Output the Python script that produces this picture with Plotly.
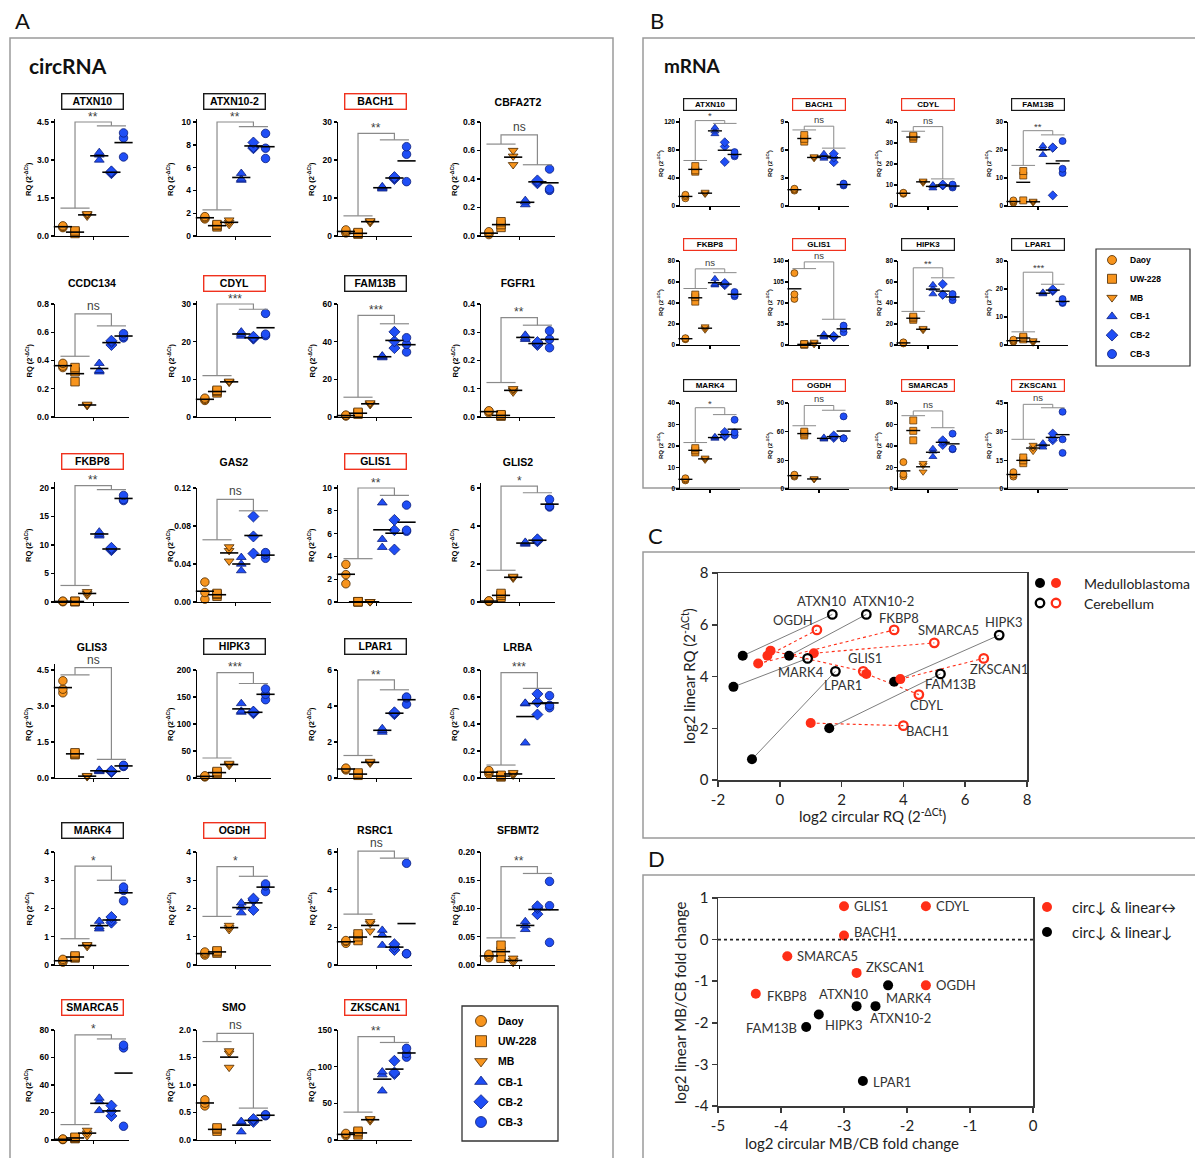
import numpy as np
import plotly.graph_objects as go

W, H = 1195, 1158

# ---------------- categories ----------------
groups = ["Daoy", "UW-228", "MB", "CB-1", "CB-2", "CB-3"]
group_symbols = ["circle", "square", "triangle-down", "triangle-up", "diamond", "circle"]
ORANGE, BLUE = "#F7941D", "#1F4EF5"
group_colors = [ORANGE, ORANGE, ORANGE, BLUE, BLUE, BLUE]
group_edges = ["#4a2800", "#4a2800", "#4a2800", "#0b1d7a", "#0b1d7a", "#0b1d7a"]

# ---------------- Panel A: circRNA RQ values (3 replicates per group) ----------------
circ_genes = ["ATXN10", "ATXN10-2", "BACH1", "CBFA2T2",
              "CCDC134", "CDYL", "FAM13B", "FGFR1",
              "FKBP8", "GAS2", "GLIS1", "GLIS2",
              "GLIS3", "HIPK3", "LPAR1", "LRBA",
              "MARK4", "OGDH", "RSRC1", "SFBMT2",
              "SMARCA5", "SMO", "ZKSCAN1"]
circ_frame = ["black", "black", "red", "", "", "red", "black", "", "red", "", "red", "",
              "", "black", "black", "", "black", "red", "", "", "red", "", "red"]

circ_ATXN10 = [[0.33, 0.37, 0.40], [0.10, 0.16, 0.20], [0.78, 0.84, 0.88], [3.0, 3.2, 3.3], [2.48, 2.52, 2.55], [3.12, 3.87, 4.07]]
circ_ATXN10_2 = [[1.5, 1.6, 1.7], [0.8, 0.92, 1.0], [1.0, 1.2, 1.4], [4.9, 5.0, 5.5], [7.7, 7.8, 8.2], [6.8, 7.7, 9.0]]
circ_BACH1 = [[0.8, 1.2, 1.6], [0.5, 0.7, 0.9], [3.5, 3.8, 4.0], [12.4, 12.7, 13.0], [15.0, 15.3, 15.5], [14.3, 21.5, 23.5]]
circ_CBFA2T2 = [[0.01, 0.02, 0.03], [0.06, 0.08, 0.10], [0.50, 0.56, 0.60], [0.22, 0.24, 0.25], [0.37, 0.38, 0.39], [0.32, 0.33, 0.47]]
circ_CCDC134 = [[0.35, 0.36, 0.38], [0.25, 0.32, 0.35], [0.08, 0.085, 0.09], [0.32, 0.33, 0.38], [0.51, 0.53, 0.54], [0.56, 0.57, 0.59]]
circ_CDYL = [[4.4, 4.7, 5.0], [6.4, 6.8, 7.1], [9.2, 9.3, 9.5], [21.5, 22.0, 22.6], [20.8, 21.0, 21.3], [21.6, 22.0, 27.5]]
circ_FAM13B = [[0.5, 0.8, 1.0], [1.5, 2.0, 2.5], [6.5, 7.0, 7.5], [31.5, 32.0, 32.5], [36.6, 40.2, 45.2], [34.5, 38.6, 42.1]]
circ_FGFR1 = [[0.015, 0.02, 0.022], [0.003, 0.006, 0.008], [0.088, 0.095, 0.1], [0.275, 0.28, 0.29], [0.255, 0.26, 0.265], [0.245, 0.275, 0.305]]
circ_FKBP8 = [[0.05, 0.1, 0.15], [0.05, 0.1, 0.12], [1.2, 1.5, 1.8], [11.6, 11.9, 12.3], [9.1, 9.3, 9.5], [17.8, 18.0, 18.7]]
circ_GAS2 = [[0.003, 0.01, 0.021], [0.006, 0.008, 0.009], [0.043, 0.054, 0.058], [0.033, 0.04, 0.047], [0.051, 0.069, 0.09], [0.046, 0.05, 0.052]]
circ_GLIS1 = [[1.6, 2.4, 3.3], [0.01, 0.02, 0.03], [0.01, 0.02, 0.03], [4.8, 5.5, 8.7], [4.6, 6.3, 7.2], [6.2, 6.3, 8.5]]
circ_GLIS2 = [[0.03, 0.05, 0.06], [0.25, 0.35, 0.45], [1.25, 1.3, 1.35], [3.05, 3.1, 3.15], [3.2, 3.25, 3.3], [5.0, 5.05, 5.4]]
circ_GLIS3 = [[3.55, 3.7, 4.05], [0.97, 1.0, 1.05], [0.05, 0.08, 0.1], [0.27, 0.3, 0.33], [0.25, 0.28, 0.3], [0.48, 0.5, 0.53]]
circ_HIPK3 = [[2, 3, 4], [8, 10, 12], [23, 25, 27], [122, 124, 138], [120, 122, 123], [145, 155, 165]]
circ_LPAR1 = [[0.45, 0.5, 0.55], [0.15, 0.22, 0.28], [0.82, 0.87, 0.92], [2.55, 2.65, 2.75], [3.55, 3.6, 3.65], [4.1, 4.45, 4.5]]
circ_LRBA = [[0.03, 0.045, 0.055], [0.008, 0.015, 0.02], [0.02, 0.03, 0.04], [0.26, 0.55, 0.555], [0.47, 0.562, 0.623], [0.52, 0.538, 0.61]]
circ_MARK4 = [[0.1, 0.15, 0.2], [0.25, 0.28, 0.32], [0.65, 0.7, 0.72], [1.28, 1.35, 1.55], [1.5, 1.58, 1.7], [2.27, 2.64, 2.76]]
circ_OGDH = [[0.35, 0.4, 0.46], [0.42, 0.47, 0.5], [1.25, 1.32, 1.4], [1.85, 2.05, 2.2], [1.95, 2.3, 2.35], [2.6, 2.8, 2.87]]
circ_RSRC1 = [[1.15, 1.25, 1.3], [1.3, 1.5, 1.65], [1.8, 2.2, 2.3], [1.05, 1.6, 1.85], [0.8, 0.95, 1.1], [0.6, 0.6, 5.4]]
circ_SFBMT2 = [[0.013, 0.016, 0.019], [0.012, 0.024, 0.035], [0.004, 0.008, 0.012], [0.063, 0.07, 0.077], [0.09, 0.101, 0.104], [0.04, 0.105, 0.148]]
circ_SMARCA5 = [[0.3, 0.5, 0.7], [1.0, 1.5, 2.0], [3, 5, 7], [21.5, 28, 30.5], [17.5, 21, 25], [10, 67, 69]]
circ_SMO = [[0.62, 0.67, 0.73], [0.16, 0.2, 0.22], [1.32, 1.58, 1.62], [0.15, 0.32, 0.34], [0.33, 0.36, 0.38], [0.44, 0.45, 0.46]]
circ_ZKSCAN1 = [[6, 8, 9], [7, 10, 12], [26, 28, 29], [67, 89, 93], [90, 92, 108], [113, 118, 125]]

circ_data = [circ_ATXN10, circ_ATXN10_2, circ_BACH1, circ_CBFA2T2,
             circ_CCDC134, circ_CDYL, circ_FAM13B, circ_FGFR1,
             circ_FKBP8, circ_GAS2, circ_GLIS1, circ_GLIS2,
             circ_GLIS3, circ_HIPK3, circ_LPAR1, circ_LRBA,
             circ_MARK4, circ_OGDH, circ_RSRC1, circ_SFBMT2,
             circ_SMARCA5, circ_SMO, circ_ZKSCAN1]

circ_ytick_labels = [
    ["0.0", "1.5", "3.0", "4.5"], ["0", "2", "4", "6", "8", "10"], ["0", "10", "20", "30"], ["0.0", "0.2", "0.4", "0.6", "0.8"],
    ["0.0", "0.2", "0.4", "0.6", "0.8"], ["0", "10", "20", "30"], ["0", "20", "40", "60"], ["0.0", "0.1", "0.2", "0.3", "0.4"],
    ["0", "5", "10", "15", "20"], ["0.00", "0.04", "0.08", "0.12"], ["0", "2", "4", "6", "8", "10"], ["0", "2", "4", "6"],
    ["0.0", "1.5", "3.0", "4.5"], ["0", "50", "100", "150", "200"], ["0", "2", "4", "6"], ["0.0", "0.2", "0.4", "0.6", "0.8"],
    ["0", "1", "2", "3", "4"], ["0", "1", "2", "3", "4"], ["0", "2", "4", "6"], ["0.00", "0.05", "0.10", "0.15", "0.20"],
    ["0", "20", "40", "60", "80"], ["0.0", "0.5", "1.0", "1.5", "2.0"], ["0", "50", "100", "150"]]

# significance bracket heights (MB group bar, CB group bar, top) and labels
circ_bar_mb = [1.1, 2.3, 5.3, 0.645, 0.43, 11.0, 10.5, 0.122, 2.9, 0.0655, 3.8, 1.67,
               4.3, 37, 1.25, 0.096, 0.93, 1.72, 2.7, 0.048, 11.2, 1.79, 38]
circ_bar_cb = [4.35, 9.6, 25.3, 0.50, 0.645, 28.6, 49.5, 0.325, 19.7, 0.096, 9.35, 5.75,
               0.78, 175, 4.9, 0.664, 3.0, 3.14, 5.68, 0.162, 73.5, 0.58, 133]
circ_bar_top = [4.5, 10.0, 27.0, 0.71, 0.73, 30.0, 54, 0.352, 20.4, 0.108, 10.0, 6.1,
                4.6, 195, 5.45, 0.78, 3.5, 3.48, 6.05, 0.174, 76.5, 1.94, 141]
circ_signif = ["**", "**", "**", "ns", "ns", "***", "***", "**", "**", "ns", "**", "*",
               "ns", "***", "**", "***", "*", "*", "ns", "**", "*", "ns", "**"]

# ---------------- Panel B: mRNA RQ values ----------------
mrna_genes = ["ATXN10", "BACH1", "CDYL", "FAM13B",
              "FKBP8", "GLIS1", "HIPK3", "LPAR1",
              "MARK4", "OGDH", "SMARCA5", "ZKSCAN1"]
mrna_frame = ["black", "red", "red", "black", "red", "red", "black", "black", "black", "red", "red", "red"]

mrna_ATXN10 = [[11, 14, 16], [49, 51, 57], [17, 18, 20], [103, 107, 112], [63, 85, 91], [71, 73, 77]]
mrna_BACH1 = [[1.65, 1.75, 1.85], [6.9, 7.2, 7.6], [5.1, 5.2, 5.3], [5.1, 5.3, 5.6], [4.7, 5.2, 5.6], [2.2, 2.3, 2.4]]
mrna_CDYL = [[5.8, 6.1, 6.3], [32, 33, 33.5], [11, 11.5, 12], [8.5, 9.5, 10], [9.8, 10, 10.2], [8.8, 9.5, 10.2]]
mrna_FAM13B = [[1.2, 1.6, 2.0], [2.0, 10.9, 12.5], [1.2, 1.5, 1.8], [18.3, 20.5, 21.5], [3.8, 20.8, 20.9], [11.8, 13.3, 23.2]]
mrna_FKBP8 = [[5.5, 6, 6.5], [41.3, 45.6, 48], [14.5, 16, 17.5], [57, 58, 63], [57, 58, 59], [46.5, 48, 50.5]]
mrna_GLIS1 = [[76.8, 84.4, 119.8], [0.5, 1, 1.5], [1, 3, 5], [13, 15, 18], [13, 14, 15], [21.2, 27.3, 32.3]]
mrna_HIPK3 = [[1.5, 2, 2.5], [24, 25.5, 27], [14, 15, 16], [48.5, 53.8, 57.3], [48, 48, 58], [42.7, 46, 48.5]]
mrna_LPAR1 = [[1.2, 1.5, 1.9], [2, 2.5, 3], [0.8, 1.2, 1.6], [18.2, 18.5, 18.8], [19.3, 19.6, 19.9], [15, 15.3, 16.4]]
mrna_MARK4 = [[4, 4.5, 5], [17, 18, 19], [13.5, 14, 14.5], [23.5, 24, 24.3], [24.5, 25, 26.5], [25, 26.3, 32.2]]
mrna_OGDH = [[13, 14, 15], [56, 58, 60], [10, 10.5, 11], [52, 53, 54], [53.5, 55, 56], [53, 53, 76]]
mrna_SMARCA5 = [[11.8, 13.8, 25], [45.3, 54.1, 63.8], [16, 22, 24], [30, 35, 37.5], [41, 44, 45.3], [37, 37.5, 51.5]]
mrna_ZKSCAN1 = [[6.5, 7.5, 8.8], [13.5, 15, 16.5], [19.8, 21.5, 23], [21.8, 23, 24], [25.5, 26.5, 29], [18.9, 26, 40.4]]

mrna_data = [mrna_ATXN10, mrna_BACH1, mrna_CDYL, mrna_FAM13B,
             mrna_FKBP8, mrna_GLIS1, mrna_HIPK3, mrna_LPAR1,
             mrna_MARK4, mrna_OGDH, mrna_SMARCA5, mrna_ZKSCAN1]

mrna_ytick_labels = [
    ["0", "40", "80", "120"], ["0", "3", "6", "9"], ["0", "10", "20", "30", "40"], ["0", "10", "20", "30"],
    ["0", "20", "40", "60", "80"], ["0", "35", "70", "105", "140"], ["0", "20", "40", "60", "80"], ["0", "10", "20", "30"],
    ["0", "10", "20", "30", "40"], ["0", "30", "60", "90"], ["0", "20", "40", "60", "80"], ["0", "15", "30", "45"]]

mrna_bar_mb = [65, 8.15, 35.6, 14.5, 53.8, 127.3, 32, 4.7, 21.6, 66.2, 68.2, 26]
mrna_bar_cb = [118, 6.2, 12.9, 25.4, 68.9, 42.9, 64, 21.7, 34.6, 82.4, 57, 42.5]
mrna_bar_top = [122, 8.55, 37.8, 26.9, 72.5, 138.5, 73.5, 26, 37.8, 87.4, 72.6, 44.3]
mrna_signif = ["*", "ns", "ns", "**", "ns", "ns", "**", "***", "*", "ns", "ns", "ns"]

# ---------------- Panel C: log2 RQ circular vs linear ----------------
C_black_genes = ["ATXN10", "ATXN10-2", "MARK4", "LPAR1", "HIPK3", "FAM13B"]
C_black_mb_circ = [-1.2, 0.3, -1.5, -0.9, 3.7, 1.6]
C_black_mb_lin = [4.8, 4.8, 3.6, 0.8, 3.8, 2.0]
C_black_cb_circ = [1.7, 2.8, 0.9, 1.8, 7.1, 5.2]
C_black_cb_lin = [6.4, 6.4, 4.7, 4.2, 5.6, 4.1]
C_red_genes = ["OGDH", "FKBP8", "SMARCA5", "ZKSCAN1", "CDYL", "GLIS1", "BACH1"]
C_red_mb_circ = [-0.4, -0.7, 1.1, 3.9, 2.8, -0.3, 1.0]
C_red_mb_lin = [4.8, 4.5, 4.9, 3.9, 4.1, 5.0, 2.2]
C_red_cb_circ = [1.2, 3.7, 5.0, 6.6, 4.5, 2.7, 4.0]
C_red_cb_lin = [5.8, 5.8, 5.3, 4.7, 3.3, 4.2, 2.1]
C_xtick_labels = ["-2", "0", "2", "4", "6", "8"]
C_ytick_labels = ["0", "2", "4", "6", "8"]

# ---------------- Panel D: log2 MB/CB fold change ----------------
D_red_genes = ["GLIS1", "CDYL", "BACH1", "SMARCA5", "ZKSCAN1", "OGDH", "FKBP8"]
D_red_circ = [-3.0, -1.7, -3.0, -3.9, -2.8, -1.7, -4.4]
D_red_lin = [0.8, 0.8, 0.1, -0.4, -0.8, -1.1, -1.3]
D_black_genes = ["MARK4", "ATXN10", "ATXN10-2", "HIPK3", "FAM13B", "LPAR1"]
D_black_circ = [-2.3, -2.8, -2.5, -3.4, -3.6, -2.7]
D_black_lin = [-1.1, -1.6, -1.6, -1.8, -2.1, -3.4]
D_xtick_labels = ["-5", "-4", "-3", "-2", "-1", "0"]
D_ytick_labels = ["-4", "-3", "-2", "-1", "0", "1"]

# ======================================================================
SF = "Liberation Sans"
CF = "Lato"
RED = "#FF2E17"
FRAME_COL = {"black": "#1a1a1a", "red": "#F0321E", "": "rgba(0,0,0,0)"}

fig = go.Figure()
layout = {}
annotations = []
shapes = []
counter = [0]


def new_axes():
    counter[0] += 1
    n = counter[0]
    s = "" if n == 1 else str(n)
    return "x" + s, "y" + s, "xaxis" + s, "yaxis" + s


def px(v):
    return v / W


def py(v):
    return 1 - v / H


def paper_text(x, y, text, font, xanchor="center", angle=0):
    annotations.append(dict(x=px(x), y=py(y), xref="paper", yref="paper", text=text, showarrow=False,
                            xanchor=xanchor, yanchor="middle", textangle=angle, font=font))


def small_panel(gene, frame, data, labels, b_mb, b_cb, b_top, sig, ax_px, top_px, zero_px, title_py, S):
    tv = [float(s) for s in labels]
    T = tv[-1]
    ymax = max(T, b_top * 1.03)
    dom_top = zero_px - (zero_px - top_px) * ymax / T
    xa, ya, xk, yk = new_axes()
    common = dict(showline=True, linecolor="black", linewidth=S["lw"], ticks="outside",
                  ticklen=S["tl"], tickwidth=S["lw"], tickcolor="black", showgrid=False,
                  zeroline=False, fixedrange=True, automargin=False)
    layout[xk] = dict(domain=[px(ax_px), px(ax_px + S["w"])], range=S["xr"], anchor=ya,
                      tickvals=[3.5], showticklabels=False, **common)
    layout[yk] = dict(domain=[py(zero_px), py(dom_top)], range=[0, ymax], anchor=xa,
                      tickvals=tv, ticktext=labels,
                      tickfont=dict(family=SF, size=S["tf"], color="black", weight="bold"), **common)
    xs, ys, sy, cl, ed = [], [], [], [], []
    for g, reps in enumerate(data):
        for v in reps:
            xs.append(g + 1)
            ys.append(v)
            sy.append(group_symbols[g])
            cl.append(group_colors[g])
            ed.append(group_edges[g])
    fig.add_trace(go.Scatter(x=xs, y=ys, mode="markers", xaxis=xa, yaxis=ya, cliponaxis=False,
                             showlegend=False, hoverinfo="skip",
                             marker=dict(symbol=sy, color=cl, size=S["ms"], line=dict(color=ed, width=S["mlw"]))))
    fig.add_trace(go.Scatter(x=list(range(1, 7)), y=[float(np.mean(r)) for r in data], mode="markers",
                             xaxis=xa, yaxis=ya, cliponaxis=False, showlegend=False, hoverinfo="skip",
                             marker=dict(symbol="line-ew", size=S["mean"], color="black",
                                         line=dict(color="black", width=S["meanw"]))))
    lo, mid_l, hi_l = 1 - 0.2, 2, 3 + 0.2
    lo_r, mid_r, hi_r = 4 - 0.2, 5, 6 + 0.2
    fig.add_trace(go.Scatter(x=[lo, hi_l, None, mid_l, mid_l, mid_r, mid_r, None, lo_r, hi_r],
                             y=[b_mb, b_mb, None, b_mb, b_top, b_top, b_cb, None, b_cb, b_cb],
                             mode="lines", xaxis=xa, yaxis=ya, showlegend=False, hoverinfo="skip",
                             line=dict(color="#8a8a8a", width=S["bw"])))
    annotations.append(dict(x=3.5, y=b_top, xref=xa, yref=ya, text=sig, showarrow=False,
                            yanchor="bottom", yshift=(-S["sf"] * 0.3 if "*" in sig else -1),
                            font=dict(family=SF, size=S["sf"], color="#404040")))
    annotations.append(dict(x=px(ax_px + S["w"] / 2), y=py(title_py), xref="paper", yref="paper",
                            text=gene, showarrow=False, xanchor="center", yanchor="middle",
                            font=dict(family=SF, size=S["ttf"], color="black", weight="bold"),
                            bordercolor=FRAME_COL[frame], borderwidth=(S["bdw"] if frame else 0),
                            borderpad=1, width=S["tw"], height=S["th"]))
    paper_text(ax_px - S["yto"], (top_px + zero_px) / 2, "RQ (2<sup>-ΔCt</sup>)",
               dict(family=SF, size=S["ytf"], color="black", weight="bold"), angle=-90)


SA = dict(w=74, xr=[0.35, 6.45], lw=1.4, tl=3, tf=8.5, ms=8.5, mlw=0.8, mean=13, meanw=1.6, bw=1.2,
          sf=12, ttf=10.5, tw=58, th=12, bdw=1.4, yto=27, ytf=7.5)
SB = dict(w=60, xr=[0.45, 6.55], lw=1.2, tl=2.5, tf=6.5, ms=7, mlw=0.7, mean=10, meanw=1.4, bw=1.0,
          sf=9.5, ttf=8, tw=50, th=9, bdw=1.2, yto=20, ytf=6)

A_col_px = [55, 197, 338, 481]
A_rows = [(122, 236), (304, 417), (488, 602), (670, 778), (852, 965), (1030, 1140)]
A_title_py = [102, 283, 462, 647, 830, 1007]
for i, gene in enumerate(circ_genes):
    r, c = divmod(i, 4)
    small_panel(gene, circ_frame[i], circ_data[i], circ_ytick_labels[i], circ_bar_mb[i], circ_bar_cb[i],
                circ_bar_top[i], circ_signif[i], A_col_px[c], A_rows[r][0], A_rows[r][1], A_title_py[r], SA)

B_col_px = [680, 789, 898, 1008]
B_rows = [(122, 206), (261, 345), (403, 489)]
B_title_py = [105, 244, 386]
for i, gene in enumerate(mrna_genes):
    r, c = divmod(i, 4)
    small_panel(gene, mrna_frame[i], mrna_data[i], mrna_ytick_labels[i], mrna_bar_mb[i], mrna_bar_cb[i],
                mrna_bar_top[i], mrna_signif[i], B_col_px[c], B_rows[r][0], B_rows[r][1], B_title_py[r], SB)

# ---------------- Panel C ----------------
big_axis = dict(showline=True, mirror=True, linecolor="#3a3a3a", linewidth=1.5, ticks="outside", ticklen=5,
                tickwidth=1.5, tickcolor="#3a3a3a", showgrid=False, zeroline=False, automargin=False,
                tickfont=dict(family=CF, size=15, color="#222222"))
xa, ya, xk, yk = new_axes()
layout[xk] = dict(domain=[px(718), px(1027)], range=[-2, 8], anchor=ya,
                  tickvals=[float(s) for s in C_xtick_labels], ticktext=C_xtick_labels, **big_axis)
layout[yk] = dict(domain=[py(780), py(573)], range=[0, 8], anchor=xa,
                  tickvals=[float(s) for s in C_ytick_labels], ticktext=C_ytick_labels, **big_axis)


def pair_xy(a, b):
    out = []
    for u, v in zip(a, b):
        out += [u, v, None]
    return out


fig.add_trace(go.Scatter(x=pair_xy(C_black_mb_circ, C_black_cb_circ), y=pair_xy(C_black_mb_lin, C_black_cb_lin),
                         mode="lines", xaxis=xa, yaxis=ya, showlegend=False, hoverinfo="skip",
                         line=dict(color="#6e6e6e", width=0.9)))
fig.add_trace(go.Scatter(x=pair_xy(C_red_mb_circ, C_red_cb_circ), y=pair_xy(C_red_mb_lin, C_red_cb_lin),
                         mode="lines", xaxis=xa, yaxis=ya, showlegend=False, hoverinfo="skip",
                         line=dict(color=RED, width=1.1, dash="dot")))
for xs_, ys_, col, sym in [(C_black_mb_circ, C_black_mb_lin, "black", "circle"),
                           (C_red_mb_circ, C_red_mb_lin, RED, "circle"),
                           (C_black_cb_circ, C_black_cb_lin, "black", "circle-open"),
                           (C_red_cb_circ, C_red_cb_lin, RED, "circle-open")]:
    fig.add_trace(go.Scatter(x=xs_, y=ys_, mode="markers", xaxis=xa, yaxis=ya, showlegend=False,
                             hoverinfo="skip", cliponaxis=False,
                             marker=dict(symbol=sym, color=col, size=(10 if sym == "circle" else 8.5),
                                         line=dict(color=col, width=(0 if sym == "circle" else 2.3)))))

C_label_shift = {"ATXN10": (-11, 13), "ATXN10-2": (17, 13), "OGDH": (-24, 10), "FKBP8": (5, 12),
                 "SMARCA5": (14, 13), "HIPK3": (5, 13), "GLIS1": (2, 13), "MARK4": (-7, -14),
                 "LPAR1": (8, -14), "ZKSCAN1": (15, -11), "FAM13B": (10, -10), "CDYL": (8, -10),
                 "BACH1": (24, -5)}
for genes_, cx, cy in [(C_black_genes, C_black_cb_circ, C_black_cb_lin), (C_red_genes, C_red_cb_circ, C_red_cb_lin)]:
    for g, xv, yv in zip(genes_, cx, cy):
        dx, dy = C_label_shift[g]
        annotations.append(dict(x=xv, y=yv, xref=xa, yref=ya, text=g, showarrow=False, xshift=dx, yshift=dy,
                                font=dict(family=CF, size=13, color="#333333")))
big_font = dict(family=CF, size=15, color="#222222")
paper_text(688, 676, "log2 linear RQ (2<sup>-ΔCt</sup>)", big_font, angle=-90)
paper_text(872, 815, "log2 circular RQ (2<sup>-ΔCt</sup>)", big_font)

# ---------------- Panel D ----------------
xa, ya, xk, yk = new_axes()
layout[xk] = dict(domain=[px(718), px(1033)], range=[-5, 0], anchor=ya,
                  tickvals=[float(s) for s in D_xtick_labels], ticktext=D_xtick_labels, **big_axis)
layout[yk] = dict(domain=[py(1106), py(898)], range=[-4, 1], anchor=xa,
                  tickvals=[float(s) for s in D_ytick_labels], ticktext=D_ytick_labels, **big_axis)
shapes.append(dict(type="line", xref=xa + " domain", yref=ya, x0=0, x1=1, y0=0, y1=0,
                   line=dict(color="#222222", width=1.6, dash="dot")))
fig.add_trace(go.Scatter(x=D_red_circ, y=D_red_lin, mode="markers", xaxis=xa, yaxis=ya, showlegend=False,
                         hoverinfo="skip", cliponaxis=False, marker=dict(color=RED, size=10)))
fig.add_trace(go.Scatter(x=D_black_circ, y=D_black_lin, mode="markers", xaxis=xa, yaxis=ya, showlegend=False,
                         hoverinfo="skip", cliponaxis=False, marker=dict(color="black", size=10)))
D_label_pos = {"GLIS1": (8, 0, "left"), "CDYL": (8, 0, "left"), "BACH1": (8, 3, "left"),
               "SMARCA5": (8, 0, "left"), "ZKSCAN1": (7, 6, "left"), "OGDH": (8, 0, "left"),
               "FKBP8": (9, -2, "left"), "MARK4": (-4, -13, "left"), "ATXN10": (-13, 12, "center"),
               "ATXN10-2": (-8, -12, "left"), "HIPK3": (4, -11, "left"), "FAM13B": (-7, -1, "right"),
               "LPAR1": (8, -1, "left")}
for genes_, cx, cy in [(D_red_genes, D_red_circ, D_red_lin), (D_black_genes, D_black_circ, D_black_lin)]:
    for g, xv, yv in zip(genes_, cx, cy):
        dx, dy, anc = D_label_pos[g]
        annotations.append(dict(x=xv, y=yv, xref=xa, yref=ya, text=g, showarrow=False, xshift=dx, yshift=dy,
                                xanchor=anc, font=dict(family=CF, size=13, color="#333333")))
paper_text(680, 1003, "log2 linear MB/CB fold change", big_font, angle=-90)
paper_text(852, 1143, "log2 circular MB/CB fold change", big_font)

# ---------------- legends (pixel overlay axis) ----------------
xa, ya, xk, yk = new_axes()
layout[xk] = dict(domain=[0, 1], range=[0, W], visible=False, fixedrange=True, automargin=False)
layout[yk] = dict(domain=[0, 1], range=[H, 0], visible=False, fixedrange=True, anchor=xa, automargin=False)


def group_legend(x_marker, x_text, y0, dy, size, fsize):
    yy = [y0 + k * dy for k in range(6)]
    fig.add_trace(go.Scatter(x=[x_marker] * 6, y=yy, mode="markers", xaxis=xa, yaxis=ya, showlegend=False,
                             hoverinfo="skip", cliponaxis=False,
                             marker=dict(symbol=group_symbols, color=group_colors, size=size,
                                         line=dict(color=group_edges, width=0.8))))
    for name, yv in zip(groups, yy):
        paper_text(x_text, yv, name, dict(family=SF, size=fsize, color="black", weight="bold"), xanchor="left")


group_legend(481, 496, 1021, 20.2, 11, 10.5)
shapes.append(dict(type="rect", xref="paper", yref="paper", x0=px(462), x1=px(558), y0=py(1006), y1=py(1141),
                   line=dict(color="#333333", width=1.3)))
group_legend(1112, 1128, 260, 18.8, 9, 8.5)
shapes.append(dict(type="rect", xref="paper", yref="paper", x0=px(1096), x1=px(1190), y0=py(249), y1=py(366),
                   line=dict(color="#333333", width=1.2)))

# Panel C legend
fig.add_trace(go.Scatter(x=[1040, 1056], y=[583, 583], mode="markers", xaxis=xa, yaxis=ya, showlegend=False,
                         hoverinfo="skip", cliponaxis=False, marker=dict(color=["black", RED], size=10)))
fig.add_trace(go.Scatter(x=[1040, 1056], y=[603, 603], mode="markers", xaxis=xa, yaxis=ya, showlegend=False,
                         hoverinfo="skip", cliponaxis=False,
                         marker=dict(symbol="circle-open", color=["black", RED], size=8.5,
                                     line=dict(color=["black", RED], width=2.3))))
leg_font = dict(family=CF, size=14, color="#222222")
paper_text(1082, 583, "Medulloblastoma", leg_font, xanchor="left")
paper_text(1082, 603, "Cerebellum", leg_font, xanchor="left")
# Panel D legend
fig.add_trace(go.Scatter(x=[1047, 1047], y=[907, 932], mode="markers", xaxis=xa, yaxis=ya, showlegend=False,
                         hoverinfo="skip", cliponaxis=False, marker=dict(color=[RED, "black"], size=10)))
paper_text(1070, 907, "circ↓ & linear↔", big_font, xanchor="left")
paper_text(1070, 932, "circ↓ & linear↓", big_font, xanchor="left")

# ---------------- panel frames and labels ----------------
for (x0, y0, x1, y1) in [(10, 38, 613, 1175), (643, 38, 1210, 488), (643, 552, 1210, 838), (643, 875, 1210, 1175)]:
    shapes.append(dict(type="rect", xref="paper", yref="paper", x0=px(x0), x1=px(x1), y0=py(y1), y1=py(y0),
                       line=dict(color="#9a9a9a", width=1.5), layer="below"))
for txt, x, y in [("A", 13, 20), ("B", 648, 20), ("C", 646, 535), ("D", 646, 858)]:
    paper_text(x, y, txt, dict(family=CF, size=22, color="#111111"), xanchor="left")
paper_text(27, 65, "circRNA", dict(family=CF, size=21, color="#111111", weight="bold"), xanchor="left")
paper_text(662, 65, "mRNA", dict(family=CF, size=19, color="#111111", weight="bold"), xanchor="left")

fig.update_layout(template="none", width=W, height=H,
                  margin=dict(l=0, r=0, t=0, b=0, pad=0, autoexpand=False), paper_bgcolor="white",
                  plot_bgcolor="rgba(0,0,0,0)", showlegend=False, annotations=annotations, shapes=shapes,
                  **layout)
fig.write_html("out.html", config={"displayModeBar": False, "staticPlot": True},
               post_script="document.body.style.margin='0px';")
